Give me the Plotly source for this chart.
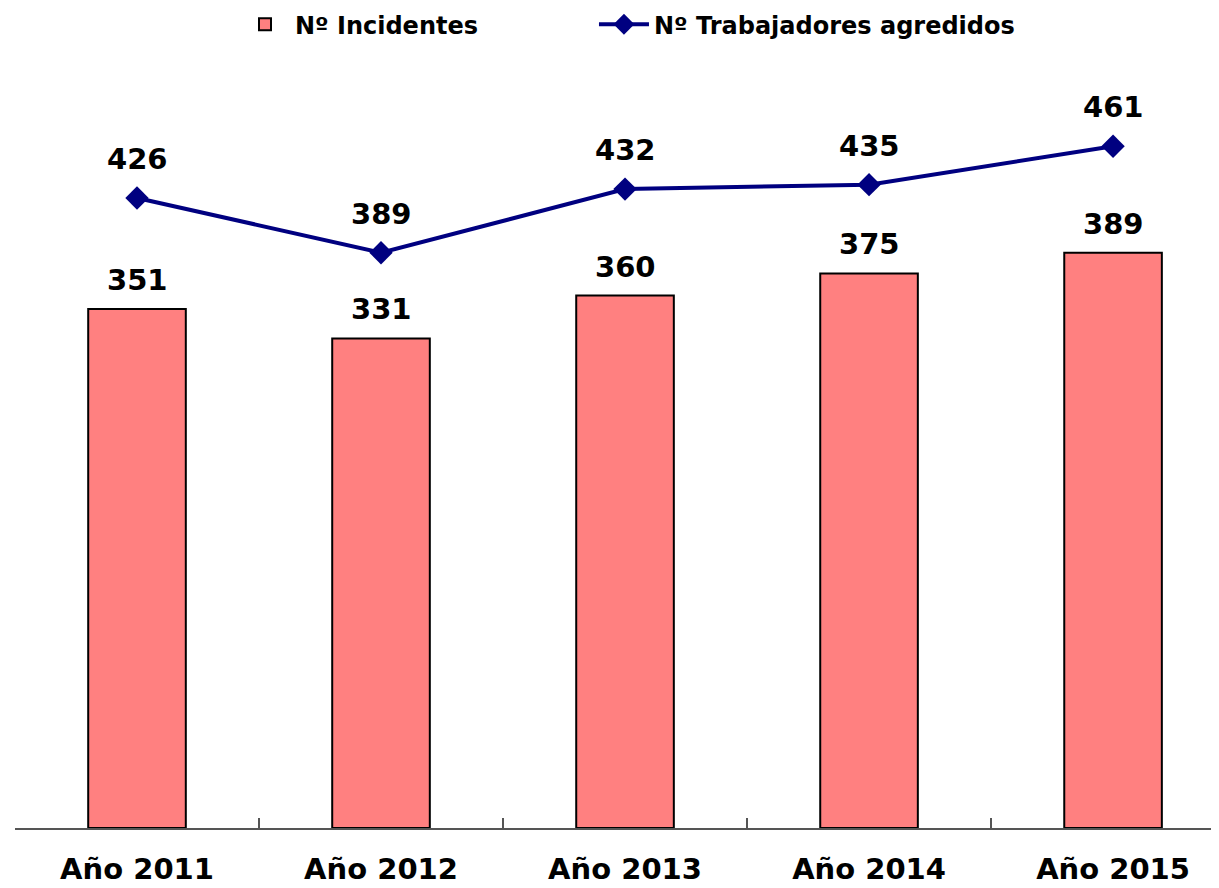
import plotly.graph_objects as go

categories = ["Año 2011", "Año 2012", "Año 2013", "Año 2014", "Año 2015"]
incidentes = [351, 331, 360, 375, 389]
trabajadores = [426, 389, 432, 435, 461]

FONT = "DejaVu Sans"
fig = go.Figure()
fig.add_trace(go.Bar(
    x=categories, y=incidentes, name="<b>Nº Incidentes</b>",
    marker=dict(color="#FF8080", line=dict(color="black", width=2)),
    width=0.4, legend="legend",
))
fig.add_trace(go.Scatter(
    x=categories, y=trabajadores, name="<b>Nº Trabajadores agredidos</b>",
    mode="lines+markers",
    line=dict(color="#000080", width=4),
    marker=dict(symbol="diamond", size=18, color="#000080"),
    legend="legend2",
))

anns = []
for c, v in zip(categories, incidentes):
    anns.append(dict(x=c, y=v, text=f"<b>{v}</b>", showarrow=False,
                     yanchor="bottom", yshift=10,
                     font=dict(family=FONT, size=29, color="black")))
for c, v in zip(categories, trabajadores):
    anns.append(dict(x=c, y=v, text=f"<b>{v}</b>", showarrow=False,
                     yanchor="bottom", yshift=20,
                     font=dict(family=FONT, size=29, color="black")))

leg_common = dict(orientation="h", xanchor="left", y=1.046, yanchor="middle",
                  font=dict(family=FONT, size=24, color="black"),
                  itemwidth=50, bgcolor="rgba(0,0,0,0)")

fig.update_layout(
    width=1219, height=888,
    margin=dict(l=7, r=0, t=52, b=68, autoexpand=False),
    paper_bgcolor="white", plot_bgcolor="white",
    showlegend=True,
    legend=dict(x=0.1815, **leg_common),
    legend2=dict(x=0.4777, **leg_common),
    annotations=anns,
)
fig.update_xaxes(
    type="category", range=[-0.5, 4.467], automargin=False,
    showline=True, linecolor="#555555", linewidth=2,
    ticks="inside", ticklen=10, tickcolor="#555555", tickwidth=2,
    tickson="boundaries", ticklabelstandoff=14,
    tickfont=dict(family=FONT, size=29, color="black"),
    tickprefix="<b>", ticksuffix="</b>",
    showgrid=False,
)
fig.update_yaxes(range=[0, 519.3], visible=False, showgrid=False, automargin=False)

fig.write_html("out.html")
